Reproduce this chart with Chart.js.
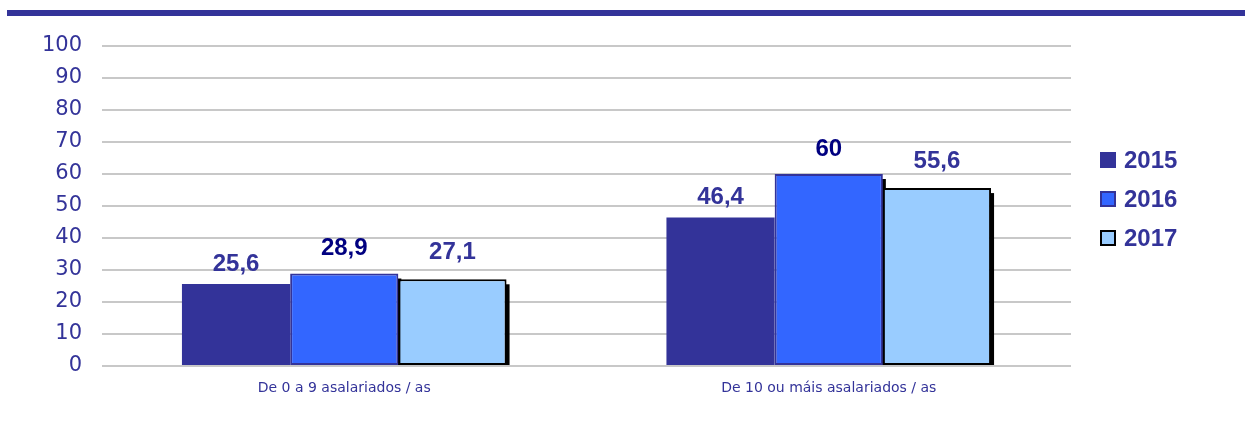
<!DOCTYPE html>
<html>
<head>
<meta charset="utf-8">
<script src="https://cdn.jsdelivr.net/npm/chart.js@4.4.0/dist/chart.umd.min.js"></script>
<style>
  html, body { margin: 0; padding: 0; background: #fff; }
  #wrap { position: relative; width: 1245px; height: 430px; }
  #topbar { position: absolute; left: 7px; right: 0; top: 10px; height: 6px; background: #333399; }
  #grafico { position: absolute; left: 0; top: 0; }
</style>
</head>
<body>
<div id="wrap">
  <canvas id="grafico" width="1245" height="430"></canvas>
  <div id="topbar"></div>
</div>
<script>
var categorias = ['De 0 a 9 asalariados / as', 'De 10 ou máis asalariados / as'];
var anos = ['2015', '2016', '2017'];
var valores2015 = [25.6, 46.4];
var valores2016 = [28.9, 60];
var valores2017 = [27.1, 55.6];
var ticksY = [0, 10, 20, 30, 40, 50, 60, 70, 80, 90, 100];

var azulEscuro = '#333399';
var fonteNegra = 'Arial, "Liberation Sans", sans-serif';

function numeroGalego(v) {
    return String(v).replace('.', ',');
}

// sombra negra a dereita de cada barra
var sombraBarras = {
    id: 'sombraBarras',
    beforeDatasetsDraw: function (chart) {
        var ctx = chart.ctx;
        ctx.save();
        ctx.fillStyle = '#000';
        chart.data.datasets.forEach(function (ds, i) {
            if (!ds.sombra) return;
            chart.getDatasetMeta(i).data.forEach(function (bar) {
                ctx.fillRect(bar.x + bar.width / 2 - 1, bar.y + 5, 4, bar.base - bar.y - 5);
            });
        });
        ctx.restore();
    }
};

// etiquetas dos valores enriba das barras
var etiquetasValores = {
    id: 'etiquetasValores',
    afterDatasetsDraw: function (chart) {
        var ctx = chart.ctx;
        ctx.save();
        ctx.font = 'bold 24px ' + fonteNegra;
        ctx.textAlign = 'center';
        ctx.textBaseline = 'middle';
        chart.data.datasets.forEach(function (ds, i) {
            ctx.fillStyle = ds.corEtiqueta;
            chart.getDatasetMeta(i).data.forEach(function (bar, j) {
                ctx.fillText(numeroGalego(ds.data[j]), bar.x, bar.y - ds.desprazamento);
            });
        });
        ctx.restore();
    }
};

// lenda a dereita
var lenda = {
    id: 'lenda',
    afterDraw: function (chart) {
        var ctx = chart.ctx;
        var x = 1100, y0 = 160, paso = 39, lado = 16;
        ctx.save();
        ctx.font = 'bold 24px ' + fonteNegra;
        ctx.textBaseline = 'middle';
        chart.data.datasets.forEach(function (ds, i) {
            var y = y0 + i * paso;
            ctx.fillStyle = ds.backgroundColor;
            ctx.fillRect(x, y - lado / 2, lado, lado);
            if (ds.borderWidth) {
                ctx.strokeStyle = ds.borderColor;
                ctx.lineWidth = 2;
                ctx.strokeRect(x + 1, y - lado / 2 + 1, lado - 2, lado - 2);
            }
            ctx.fillStyle = azulEscuro;
            ctx.fillText(ds.label, x + 24, y + 1);
        });
        ctx.restore();
    }
};

var ctx = document.getElementById('grafico').getContext('2d');
var grafico = new Chart(ctx, {
    type: 'bar',
    data: {
        labels: categorias,
        datasets: [{
            label: anos[0],
            data: valores2015,
            backgroundColor: '#333399',
            borderWidth: 0,
            corEtiqueta: '#333399',
            desprazamento: 20,
            sombra: false
        }, {
            label: anos[1],
            data: valores2016,
            backgroundColor: '#3366FF',
            borderColor: '#333399',
            borderWidth: 2,
            borderSkipped: false,
            corEtiqueta: '#000080',
            desprazamento: 25,
            sombra: true
        }, {
            label: anos[2],
            data: valores2017,
            backgroundColor: '#99CCFF',
            borderColor: '#000000',
            borderWidth: 2,
            borderSkipped: false,
            corEtiqueta: '#333399',
            desprazamento: 27,
            sombra: true
        }]
    },
    options: {
        responsive: false,
        animation: false,
        layout: { padding: { left: 0, right: 174, top: 46, bottom: 0 } },
        plugins: {
            legend: { display: false },
            tooltip: { enabled: false }
        },
        datasets: {
            bar: { categoryPercentage: 0.67, barPercentage: 1.0 }
        },
        scales: {
            x: {
                grid: { display: false },
                border: { display: false },
                ticks: {
                    color: azulEscuro,
                    font: { family: '"DejaVu Sans", Verdana, sans-serif', size: 14 },
                    padding: 6
                },
                afterFit: function (s) { s.height = 64; }
            },
            y: {
                min: 0,
                max: 100,
                afterBuildTicks: function (s) {
                    s.ticks = ticksY.map(function (v) { return { value: v }; });
                },
                grid: { color: '#c8c8c8', lineWidth: 2, drawTicks: false },
                border: { display: false },
                ticks: {
                    color: azulEscuro,
                    font: { family: '"DejaVu Sans", Verdana, sans-serif', size: 21 },
                    padding: 20
                },
                afterFit: function (s) { s.width = 102; }
            }
        }
    },
    plugins: [sombraBarras, etiquetasValores, lenda]
});
</script>
</body>
</html>
